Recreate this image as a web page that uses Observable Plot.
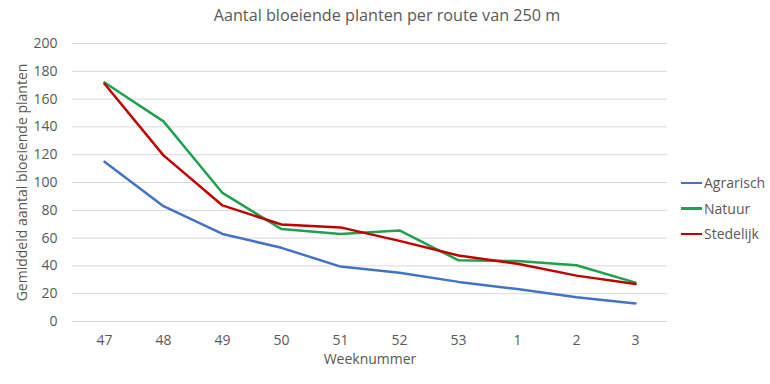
<!DOCTYPE html>
<html>
<head>
<meta charset="utf-8">
<script src="https://cdn.jsdelivr.net/npm/d3@7"></script>
<script src="https://cdn.jsdelivr.net/npm/@observablehq/plot@0.6"></script>
<style>
  html, body { margin: 0; padding: 0; background: #fff; }
  #wrap { position: relative; width: 770px; height: 384px; font-family: "Open Sans", sans-serif; }
  #title { position: absolute; left: 2px; top: 4px; width: 770px; text-align: center; font-size: 16.2px; color: #595959; }
  #chart { position: absolute; left: 0; top: 30px; }
  #legend { position: absolute; left: 681px; top: 170px; font-size: 14px; color: #595959; }
  .li { display: flex; align-items: center; height: 25.5px; }
  .sw { width: 21px; height: 2.5px; margin-right: 2px; }
</style>
</head>
<body>
<div id="wrap">
  <div id="title">Aantal bloeiende planten per route van 250 m</div>
  <div id="chart"></div>
  <div id="legend"></div>
</div>
<script>
const weeks = ["47", "48", "49", "50", "51", "52", "53", "1", "2", "3"];
const seriesNames = ["Agrarisch", "Natuur", "Stedelijk"];
const seriesColors = ["#4472C4", "#1FA14F", "#C00000"];
const agrarisch = [115, 83, 63, 53, 39.5, 35, 28.5, 23.3, 17.5, 13];
const natuur = [172, 144, 92.5, 66.5, 63, 65.5, 44, 43.5, 40.5, 28];
const stedelijk = [171, 119.5, 83.5, 69.8, 67.7, 58, 47.5, 41.5, 33, 27];
const yTicks = [0, 20, 40, 60, 80, 100, 120, 140, 160, 180, 200];

const values = [agrarisch, natuur, stedelijk];
const data = [];
seriesNames.forEach((s, i) => weeks.forEach((w, j) => data.push({series: s, week: w, value: values[i][j]})));

const plot = Plot.plot({
  width: 770,
  height: 354,
  marginTop: 13,
  marginBottom: 63,
  marginLeft: 72,
  marginRight: 103,
  style: {fontFamily: "Open Sans, sans-serif", fontSize: "14px", color: "#595959"},
  x: {type: "point", domain: weeks, padding: 0.5, label: null},
  y: {domain: [0, 200], label: null},
  color: {domain: seriesNames, range: seriesColors},
  marks: [
    Plot.gridY(yTicks, {stroke: "#d9d9d9", strokeOpacity: 1, strokeWidth: 1}),
    Plot.axisY(yTicks, {tickSize: 0, tickPadding: 15, fill: "#595959", fontSize: 14,
      label: "Gemiddeld aantal bloeiende planten", labelAnchor: "center", labelArrow: "none", labelOffset: 55}),
    Plot.axisX({tickSize: 0, tickPadding: 14, fill: "#595959", fontSize: 14,
      label: "Weeknummer", labelAnchor: "center", labelArrow: "none", labelOffset: 42}),
    Plot.line(data, {x: "week", y: "value", z: "series", stroke: "series", strokeWidth: 2.5, strokeLinejoin: "round"})
  ]
});
document.getElementById("chart").appendChild(plot);

const legend = document.getElementById("legend");
seriesNames.forEach((s, i) => {
  const row = document.createElement("div");
  row.className = "li";
  row.innerHTML = `<span class="sw" style="background:${seriesColors[i]}"></span><span>${s}</span>`;
  legend.appendChild(row);
});
</script>
</body>
</html>
